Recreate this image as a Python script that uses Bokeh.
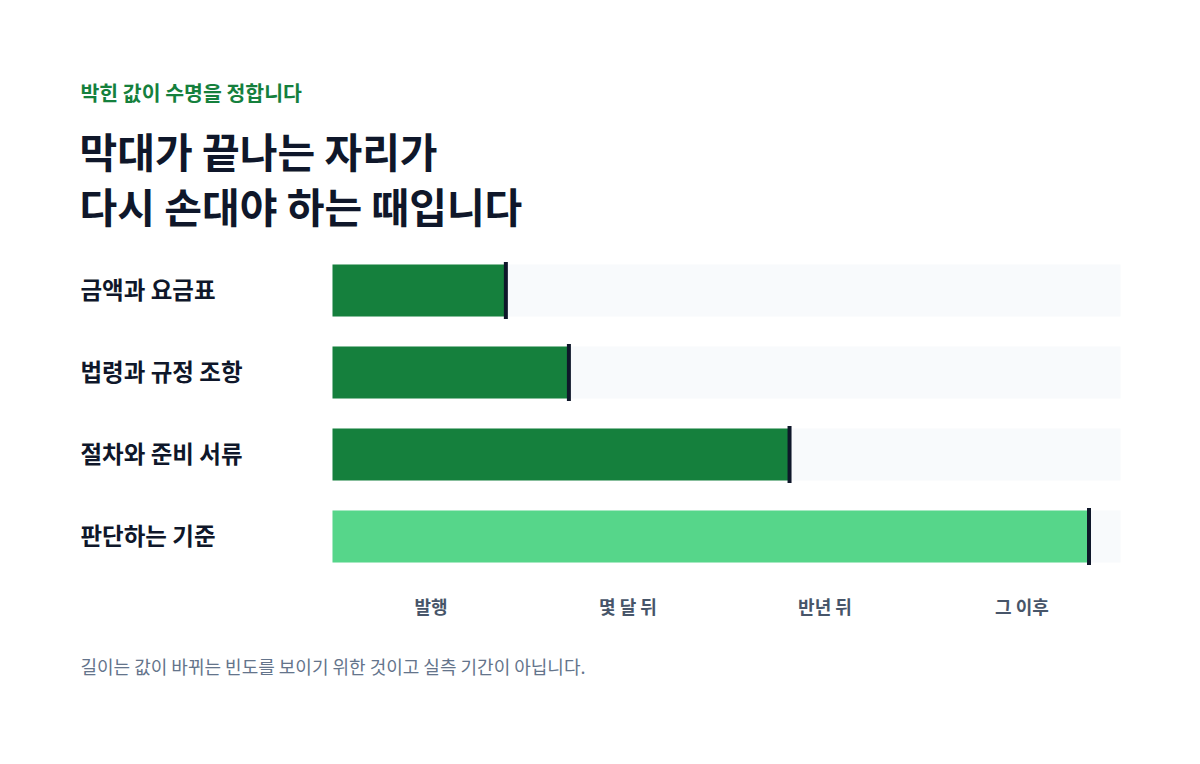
from bokeh.plotting import figure
from bokeh.models import Range1d, Label, ColumnDataSource
from bokeh.core.properties import value
from bokeh.embed import file_html
from bokeh.resources import INLINE

# data
categories = ["금액과 요금표", "법령과 규정 조항", "절차와 준비 서류", "판단하는 기준"]
lifespans = [22, 30, 58, 96]          # share of the track, 0-100
highlight = [False, False, False, True]
tick_labels = ["발행", "몇 달 뒤", "반년 뒤", "그 이후"]
tick_positions = [12.5, 37.5, 62.5, 87.5]

subtitle = "박힌 값이 수명을 정합니다"
title_lines = ["막대가 끝나는 자리가", "다시 손대야 하는 때입니다"]
footnote = "길이는 값이 바뀌는 빈도를 보이기 위한 것이고 실측 기간이 아닙니다."

FONT = value("Noto Sans CJK KR")
DARK = "#0f172a"
GREEN = "#15803d"
LIGHT_GREEN = "#56d68a"
TRACK = "#f8fafc"

W, H = 1184, 748
TRACK_LEFT, TRACK_RIGHT = 332, 1120   # canvas px
ROW0, ROW_STEP = 290, 82              # canvas px of first row centre, row spacing
scale = (TRACK_RIGHT - TRACK_LEFT) / 100.0

x_range = Range1d(-TRACK_LEFT / scale, 100 + (W - TRACK_RIGHT) / scale)
y_range = Range1d((H - ROW0) / ROW_STEP, -ROW0 / ROW_STEP)

p = figure(width=W, height=H, x_range=x_range, y_range=y_range,
           output_backend="svg", toolbar_location=None,
           x_axis_location=None, y_axis_location=None, min_border=0)
p.grid.visible = False
p.outline_line_color = None
p.background_fill_color = "white"
p.border_fill_color = "white"

rows = list(range(len(categories)))
src = ColumnDataSource(dict(
    y=rows, right=lifespans, cat=categories,
    color=[LIGHT_GREEN if h else GREEN for h in highlight],
))

bar_h = 52 / ROW_STEP
p.hbar(y=rows, left=0, right=100, height=bar_h, color=TRACK, line_color=None)
p.hbar(y="y", left=0, right="right", height=bar_h, color="color", line_color=None, source=src)
p.rect(x="right", y="y", width=4, width_units="screen", height=57, height_units="screen",
       color=DARK, line_color=None, source=src)

label_x = (80 - TRACK_LEFT) / scale
p.text(x=label_x, y="y", text="cat", source=src, text_font=FONT, text_font_style="bold",
       text_font_size="23.5px", text_color=DARK, text_baseline="middle", text_align="left",
       y_offset=-2)

tick_y = rows[-1] + (605 - (ROW0 + rows[-1] * ROW_STEP)) / ROW_STEP
p.text(x=tick_positions, y=[tick_y] * len(tick_labels), text=tick_labels, text_font=FONT,
       text_font_style="bold", text_font_size="18px", text_color="#475569",
       text_baseline="middle", text_align="center")

p.add_layout(Label(x=80, y=H - 91, x_units="screen", y_units="screen", text=subtitle,
                   text_font="Noto Sans CJK KR", text_font_style="bold", text_font_size="20.5px",
                   text_color=GREEN, text_baseline="middle"))
for i, line in enumerate(title_lines):
    p.add_layout(Label(x=79, y=H - 149 - i * 55, x_units="screen", y_units="screen", text=line,
                       text_font="Noto Sans CJK KR", text_font_style="bold", text_font_size="41px",
                       text_color=DARK, text_baseline="middle"))
p.add_layout(Label(x=80, y=H - 665, x_units="screen", y_units="screen", text=footnote,
                   text_font="Noto Sans CJK KR", text_font_size="18px",
                   text_color="#64748b", text_baseline="middle"))

open("out.html", "w").write(file_html(p, INLINE))
